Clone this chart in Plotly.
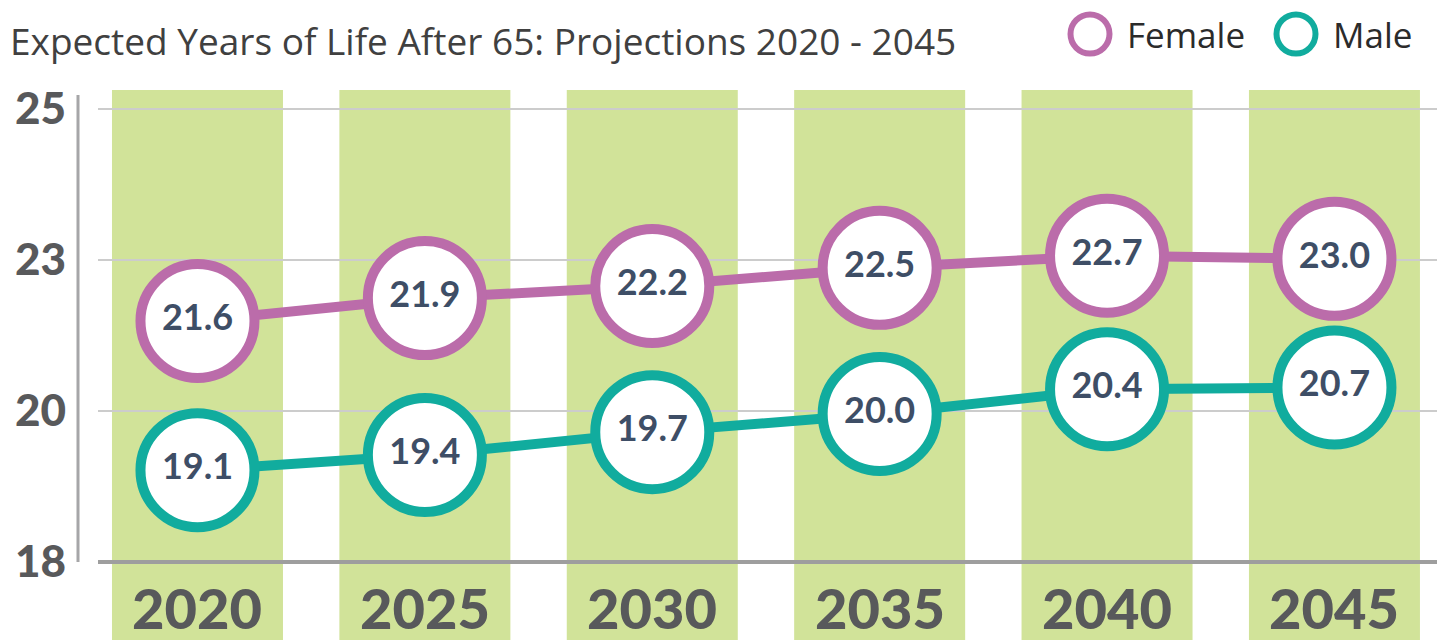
import plotly.graph_objects as go

# ---------------- data ----------------
years = ["2020", "2025", "2030", "2035", "2040", "2045"]
# values as plotted (read from circle positions)
female_values = [21.49, 21.87, 22.07, 22.37, 22.57, 22.52]
male_values = [19.02, 19.27, 19.65, 19.95, 20.36, 20.39]
# values as printed inside the circles
female_labels = ["21.6", "21.9", "22.2", "22.5", "22.7", "23.0"]
male_labels = ["19.1", "19.4", "19.7", "20.0", "20.4", "20.7"]
y_tick_vals = [17.5, 20, 22.5, 25]
y_tick_text = ["18", "20", "23", "25"]
title_text = "Expected Years of Life After 65: Projections 2020 - 2045"

# ---------------- style ----------------
FONT = "Lato"
FONT2 = "Open Sans"
FEMALE = "#bb6caa"
MALE = "#11ac9e"
GREEN = "#d1e399"
LABEL = "#3e4e66"
AXIS_TXT = "#58595b"

W, H = 1437, 640
ML, MR, MT, MB = 98, 0, 90, 78
PW, PH = W - ML - MR, H - MT - MB

def px_x(p):  # pixel x -> paper
    return (p - ML) / PW

def px_y(p):  # pixel y -> paper
    return (H - MB - p) / PH

xs = list(range(len(years)))

fig = go.Figure()
for name, vals, labs, col in [("Female", female_values, female_labels, FEMALE),
                              ("Male", male_values, male_labels, MALE)]:
    fig.add_trace(go.Scatter(
        x=xs, y=vals, name=name, text=labs,
        mode="lines+markers+text", textposition="middle center",
        textfont=dict(family=FONT, size=36, color=LABEL, weight="bold"),
        line=dict(color=col, width=10),
        marker=dict(size=114, color="white", line=dict(width=10, color=col)),
        cliponaxis=False, hoverinfo="skip", showlegend=False,
    ))

shapes = []
annotations = []
half_bar = 0.376
for i, yr in enumerate(years):
    shapes.append(dict(type="rect", xref="x", yref="paper",
                       x0=i - half_bar, x1=i + half_bar,
                       y0=px_y(H), y1=1, fillcolor=GREEN,
                       line=dict(width=0), layer="below"))
    annotations.append(dict(x=i, xref="x", yref="paper", y=px_y(607),
                            text=yr, showarrow=False, yanchor="middle",
                            font=dict(family=FONT, size=56, color=AXIS_TXT, weight=900)))

# vertical axis line
shapes.append(dict(type="line", xref="paper", yref="paper",
                   x0=px_x(78), x1=px_x(78), y0=0, y1=px_y(95),
                   line=dict(color="#a6a6a8", width=3)))
# bottom axis line
shapes.append(dict(type="line", xref="paper", yref="paper",
                   x0=0, x1=1, y0=0, y1=0,
                   line=dict(color="#9e9e9e", width=4)))

# legend
for name, col, cx, tx in [("Female", FEMALE, 1090, 1125), ("Male", MALE, 1296, 1331)]:
    shapes.append(dict(type="circle", xref="paper", yref="paper",
                       xsizemode="pixel", ysizemode="pixel",
                       xanchor=px_x(cx), yanchor=px_y(34),
                       x0=-19.5, x1=19.5, y0=-19.5, y1=19.5,
                       line=dict(color=col, width=6), fillcolor="rgba(0,0,0,0)"))
    annotations.append(dict(x=px_x(tx), y=px_y(35), xref="paper", yref="paper",
                            xanchor="left", yanchor="middle", showarrow=False,
                            text=name, font=dict(family=FONT2, size=35, color="#2b2b2b")))

fig.update_layout(
    width=W, height=H,
    margin=dict(l=ML, r=MR, t=MT, b=MB),
    paper_bgcolor="white", plot_bgcolor="white",
    title=dict(text=title_text, x=10 / W, xanchor="left", xref="container",
               y=1 - 42 / H, yanchor="middle", yref="container",
               font=dict(family=FONT2, size=37, color="#404040")),
    xaxis=dict(range=[-0.4375, 5.451], showgrid=False, zeroline=False,
               showticklabels=False, showline=False, fixedrange=True),
    yaxis=dict(range=[17.5, 17.5 + PH / 60.4], tickvals=y_tick_vals, ticktext=y_tick_text,
               showgrid=True, gridcolor="#cccccc", gridwidth=2, zeroline=False,
               showline=False, ticks="", ticklabelstandoff=31,
               tickfont=dict(family=FONT, size=44, color=AXIS_TXT, weight=900),
               fixedrange=True),
    shapes=shapes, annotations=annotations, showlegend=False,
)

fig.write_html("out.html", config={"displayModeBar": False},
               post_script="document.body.style.margin='0';")
